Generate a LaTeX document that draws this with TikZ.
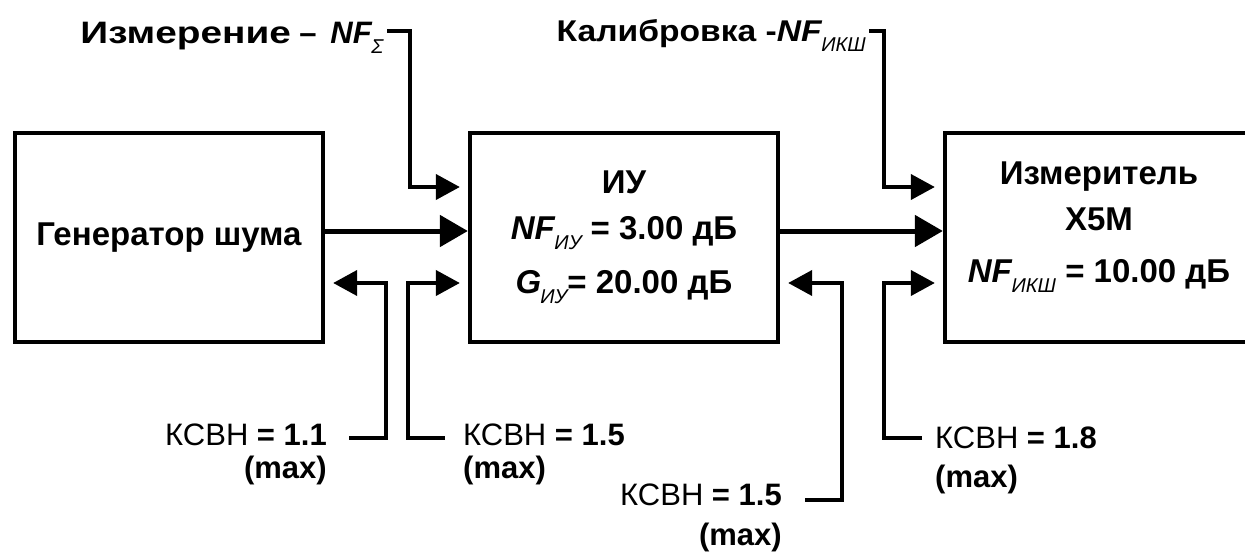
\documentclass[tikz,border=0pt]{standalone}
\usepackage{fontspec}
\setmainfont{Liberation Sans}
\usetikzlibrary{arrows.meta}

\newcommand{\lowidx}[1]{\kern-1pt\raisebox{-10pt}{\fontsize{20}{20}\selectfont\mdseries\itshape #1}}
\newcommand{\wide}[2]{{\addfontfeatures{FakeStretch=#1}#2}}

\begin{document}
\begin{tikzpicture}[x=1pt, y=-1pt, >={Triangle[length=24pt,width=25pt]},
  every node/.style={font=\fontsize{31}{33}\selectfont\bfseries},
  block/.style={draw, line width=4.3pt, minimum width=308pt, minimum height=209pt, align=center, font=\fontsize{33}{46}\selectfont\bfseries},
  title/.style={font=\fontsize{30}{32}\selectfont\bfseries},
  feed/.style={line width=4pt, ->, shorten >=8pt},
  mainline/.style={line width=5pt, -{Triangle[length=28pt,width=31pt]}},
  vswr/.style={inner sep=0pt}]
  \useasboundingbox (0,0) rectangle (1245,552);
  \node[block] (gen) at (169,237.5) {Генератор шума};
  \node[block] (dut) at (624,237.5) {ИУ\\ \textit{NF}\lowidx{ИУ} = 3.00 дБ\\[8pt] \textit{G}\lowidx{ИУ}= 20.00 дБ};
  \node[block] (meter) at (1099,237.5) {Измеритель\\ Х5М\\[6pt] \textit{NF}\lowidx{ИКШ} = 10.00 дБ\rule[-30pt]{0pt}{30pt}};
  \node[title, anchor=base east, font=\fontsize{31}{33}\selectfont\bfseries] (meas) at (387,43) {\wide{1.25}{Измерение} –\, \textit{NF}\lowidx{Σ}};
  \node[title, anchor=base east, inner sep=3pt] (calib) at (869,41) {\wide{1.12}{Калибровка -\textit{NF}}\lowidx{ИКШ}};
  % main signal path
  \draw[mainline] ([yshift=6.5pt]gen.east) -- ([yshift=6.5pt]dut.west);
  \draw[mainline] ([yshift=6.5pt]dut.east) -- ([yshift=6.5pt]meter.west);
  % measurement and calibration inputs
  \draw[feed] ([yshift=6pt]meas.east) -| (410,187) -- ([yshift=50.5pt]dut.west);
  \draw[feed] ([yshift=4pt]calib.east) -| (884,187) -- ([yshift=50.5pt]meter.west);
  % VSWR labels
  \node[vswr, anchor=north east, align=right] (v1) at (327,424) {{\mdseries КСВН} = 1.1\\(max)};
  \node[vswr, anchor=north west, align=left] (v2) at (463,424) {{\mdseries КСВН} = 1.5\\(max)};
  \node[vswr, anchor=north east, align=right] (v3) at (782,484) {{\mdseries КСВН} = 1.5\\[7pt](max)};
  \node[vswr, anchor=north west, align=left] (v4) at (935,427) {{\mdseries КСВН} = 1.8\\[6pt](max)};
  \coordinate (s1) at (349,438);
  \coordinate (s2) at (445,438);
  \coordinate (s3) at (805,500);
  \coordinate (s4) at (922,438);
  \draw[feed] (s1) -| (386,283) -- ([yshift=-45.5pt]gen.east);
  \draw[feed] (s2) -| (408,283) -- ([yshift=-45.5pt]dut.west);
  \draw[feed] (s3) -| (842,283) -- ([yshift=-45.5pt]dut.east);
  \draw[feed] (s4) -| (884,283) -- ([yshift=-45.5pt]meter.west);
\end{tikzpicture}
\end{document}
